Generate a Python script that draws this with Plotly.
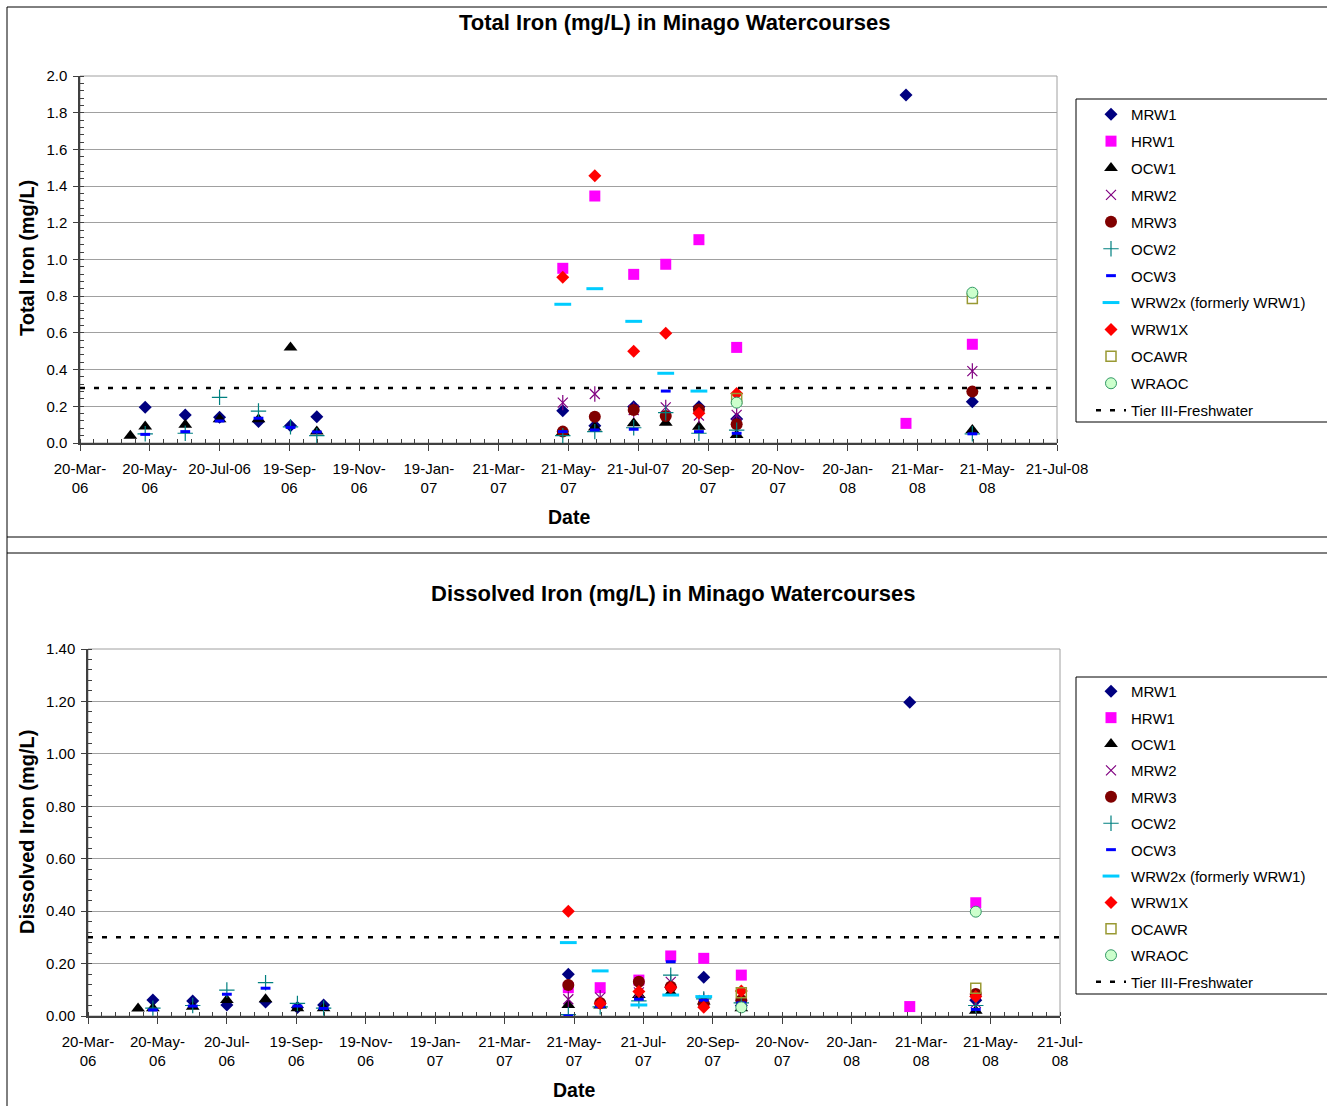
import plotly.graph_objects as go

# ---------------- data ----------------
D = {
    1: "2006-05-03", 2: "2006-05-16", 3: "2006-06-20", 4: "2006-07-20", 5: "2006-08-23",
    6: "2006-09-20", 7: "2006-10-13", 8: "2007-05-16", 9: "2007-06-13", 10: "2007-07-17",
    11: "2007-08-14", 12: "2007-09-12", 13: "2007-10-15", 14: "2008-03-11", 15: "2008-05-08",
}

# Total iron (mg/L)
tot_MRW1_d = [2, 3, 4, 5, 6, 7, 8, 9, 10, 12, 13, 14, 15]
tot_MRW1 = [0.195, 0.153, 0.14, 0.117, 0.094, 0.143, 0.176, 0.094, 0.198, 0.198, 0.131, 1.896, 0.225]
tot_HRW1_d = [8, 9, 10, 11, 12, 13, 14, 15]
tot_HRW1 = [0.952, 1.346, 0.919, 0.974, 1.108, 0.521, 0.107, 0.538]
tot_OCW1_d = [1, 2, 3, 4, 5, 6, 7, 8, 9, 10, 11, 12, 13, 15]
tot_OCW1 = [0.04, 0.09, 0.10, 0.13, 0.129, 0.52, 0.062, 0.06, 0.085, 0.107, 0.111, 0.089, 0.044, 0.071]
tot_MRW2_d = [8, 9, 10, 11, 12, 13, 15]
tot_MRW2 = [0.22, 0.267, 0.18, 0.194, 0.15, 0.153, 0.392]
tot_MRW3_d = [8, 9, 10, 11, 12, 13, 15]
tot_MRW3 = [0.062, 0.143, 0.18, 0.147, 0.183, 0.102, 0.28]
tot_OCW2_d = [2, 3, 4, 5, 6, 7, 8, 9, 10, 11, 12, 13, 15]
tot_OCW2 = [0.05, 0.053, 0.249, 0.174, 0.088, 0.04, 0.04, 0.062, 0.083, 0.165, 0.053, 0.07, 0.05]
tot_OCW3_d = [2, 3, 4, 5, 6, 7, 8, 9, 10, 11, 12, 13, 15]
tot_OCW3 = [0.047, 0.062, 0.12, 0.135, 0.085, 0.06, 0.062, 0.071, 0.075, 0.283, 0.062, 0.053, 0.05]
tot_WRW2x_d = [8, 9, 10, 11, 12]
tot_WRW2x = [0.756, 0.841, 0.663, 0.38, 0.283]
tot_WRW1X_d = [8, 9, 10, 11, 12, 13]
tot_WRW1X = [0.903, 1.457, 0.50, 0.598, 0.162, 0.27]
tot_OCAWR_d = [13, 15]
tot_OCAWR = [0.243, 0.788]
tot_WRAOC_d = [13, 15]
tot_WRAOC = [0.22, 0.819]

# Dissolved iron (mg/L)
dis_MRW1_d = [2, 3, 4, 5, 6, 7, 8, 11, 12, 13, 14, 15]
dis_MRW1 = [0.061, 0.057, 0.042, 0.053, 0.032, 0.042, 0.159, 0.11, 0.148, 0.04, 1.197, 0.06]
dis_HRW1_d = [8, 9, 10, 11, 12, 13, 14, 15]
dis_HRW1 = [0.108, 0.108, 0.137, 0.229, 0.22, 0.156, 0.036, 0.432]
dis_OCW1_d = [1, 2, 3, 4, 5, 6, 7, 8, 9, 10, 11, 12, 13, 15]
dis_OCW1 = [0.029, 0.03, 0.035, 0.061, 0.064, 0.03, 0.03, 0.042, 0.04, 0.08, 0.09, 0.055, 0.03, 0.02]
dis_MRW2_d = [8, 9, 10, 11, 12, 13, 15]
dis_MRW2 = [0.064, 0.07, 0.09, 0.13, 0.06, 0.05, 0.05]
dis_MRW3_d = [8, 9, 10, 11, 12, 13, 15]
dis_MRW3 = [0.118, 0.05, 0.131, 0.112, 0.048, 0.06, 0.084]
dis_OCW2_d = [2, 3, 4, 5, 6, 7, 8, 9, 10, 11, 12, 13, 15]
dis_OCW2 = [0.03, 0.04, 0.099, 0.127, 0.048, 0.03, 0.005, 0.035, 0.058, 0.156, 0.065, 0.05, 0.04]
dis_OCW3_d = [2, 3, 4, 5, 6, 7, 8, 9, 10, 11, 12, 13, 15]
dis_OCW3 = [0.023, 0.038, 0.083, 0.106, 0.038, 0.029, 0.0, 0.036, 0.064, 0.207, 0.06, 0.05, 0.025]
dis_WRW2x_d = [8, 9, 10, 11, 12]
dis_WRW2x = [0.28, 0.172, 0.042, 0.08, 0.074]
dis_WRW1X_d = [8, 9, 10, 11, 12, 13, 15]
dis_WRW1X = [0.40, 0.048, 0.093, 0.109, 0.033, 0.095, 0.074]
dis_OCAWR_d = [13, 15]
dis_OCAWR = [0.089, 0.106]
dis_WRAOC_d = [13, 15]
dis_WRAOC = [0.033, 0.398]

tier_dates = ["2006-03-20", "2008-07-21"]
tier_value = [0.3, 0.3]

tick_dates = ["2006-03-20", "2006-05-20", "2006-07-20", "2006-09-19", "2006-11-19", "2007-01-19",
              "2007-03-21", "2007-05-21", "2007-07-21", "2007-09-20", "2007-11-20", "2008-01-20",
              "2008-03-21", "2008-05-21", "2008-07-21"]
top_tick_labels = ["20-Mar-<br>06", "20-May-<br>06", "20-Jul-06", "19-Sep-<br>06", "19-Nov-<br>06",
                   "19-Jan-<br>07", "21-Mar-<br>07", "21-May-<br>07", "21-Jul-07", "20-Sep-<br>07",
                   "20-Nov-<br>07", "20-Jan-<br>08", "21-Mar-<br>08", "21-May-<br>08", "21-Jul-08"]
bot_tick_labels = ["20-Mar-<br>06", "20-May-<br>06", "20-Jul-<br>06", "19-Sep-<br>06", "19-Nov-<br>06",
                   "19-Jan-<br>07", "21-Mar-<br>07", "21-May-<br>07", "21-Jul-<br>07", "20-Sep-<br>07",
                   "20-Nov-<br>07", "20-Jan-<br>08", "21-Mar-<br>08", "21-May-<br>08", "21-Jul-<br>08"]

series_names = ["MRW1", "HRW1", "OCW1", "MRW2", "MRW3", "OCW2", "OCW3",
                "WRW2x (formerly WRW1)", "WRW1X", "OCAWR", "WRAOC"]

# ---------------- styles ----------------
FONT = "Liberation Sans, Arial, sans-serif"
W, H = 1327, 1106

styles = {
    "MRW1": dict(symbol="diamond", size=10, color="#000080", line=dict(width=0)),
    "HRW1": dict(symbol="square", size=11, color="#FF00FF", line=dict(width=0)),
    "OCW1": dict(symbol="triangle-up", size=12, color="#000000", line=dict(width=0)),
    "MRW2": dict(symbol="x-thin-open", size=10, color="#800080", line=dict(width=1.2, color="#800080")),
    "MRW3": dict(symbol="circle", size=12, color="#800000", line=dict(width=0)),
    "OCW2": dict(symbol="cross-thin-open", size=11, color="#008080", line=dict(width=1.2, color="#008080")),
    "OCW3": dict(symbol="line-ew-open", size=7, color="#0000FF", line=dict(width=3, color="#0000FF")),
    "WRW2x (formerly WRW1)": dict(symbol="line-ew-open", size=12, color="#00CCFF",
                                  line=dict(width=3, color="#00CCFF")),
    "WRW1X": dict(symbol="diamond", size=10, color="#FF0000", line=dict(width=0)),
    "OCAWR": dict(symbol="square-open", size=10, color="#999933", line=dict(width=1.5, color="#999933")),
    "WRAOC": dict(symbol="circle", size=11, color="#CCFFCC", line=dict(width=1, color="#339966")),
}

top_data = [(tot_MRW1_d, tot_MRW1), (tot_HRW1_d, tot_HRW1), (tot_OCW1_d, tot_OCW1),
            (tot_MRW2_d, tot_MRW2), (tot_MRW3_d, tot_MRW3), (tot_OCW2_d, tot_OCW2),
            (tot_OCW3_d, tot_OCW3), (tot_WRW2x_d, tot_WRW2x), (tot_WRW1X_d, tot_WRW1X),
            (tot_OCAWR_d, tot_OCAWR), (tot_WRAOC_d, tot_WRAOC)]
bot_data = [(dis_MRW1_d, dis_MRW1), (dis_HRW1_d, dis_HRW1), (dis_OCW1_d, dis_OCW1),
            (dis_MRW2_d, dis_MRW2), (dis_MRW3_d, dis_MRW3), (dis_OCW2_d, dis_OCW2),
            (dis_OCW3_d, dis_OCW3), (dis_WRW2x_d, dis_WRW2x), (dis_WRW1X_d, dis_WRW1X),
            (dis_OCAWR_d, dis_OCAWR), (dis_WRAOC_d, dis_WRAOC)]

fig = go.Figure()


def add_chart(data, xa, ya, leg, prefix):
    for name, (dk, vals) in zip(series_names, data):
        st = styles[name]
        xs = [D[k] for k in dk]
        fig.add_trace(go.Scatter(
            x=xs, y=vals, mode="markers", name=name, xaxis=xa, yaxis=ya, legend=leg,
            legendgroup=prefix + name,
            marker=dict(symbol=st["symbol"], size=st["size"], color=st["color"], line=st["line"]),
        ))
        if name == "MRW2":
            fig.add_trace(go.Scatter(
                x=xs, y=vals, mode="markers", name=name, xaxis=xa, yaxis=ya, legend=leg,
                legendgroup=prefix + name, showlegend=False,
                marker=dict(symbol="line-ns-open", size=11, color="#800080",
                            line=dict(width=1.2, color="#800080")),
            ))
    fig.add_trace(go.Scatter(
        x=tier_dates, y=tier_value, mode="lines", name="Tier III-Freshwater",
        xaxis=xa, yaxis=ya, legend=leg, legendgroup=prefix + "tier",
        line=dict(color="black", width=2.5, dash="5px,9px"),
    ))


add_chart(top_data, "x", "y", "legend", "t_")
add_chart(bot_data, "x2", "y2", "legend2", "b_")

minor_x = dict(ticks="inside", ticklen=4, tickcolor="#404040", dtick=12.2 * 86400000,
               tick0="2006-03-20", showgrid=False)


def xaxis(domain, labels, anchor):
    return dict(domain=domain, anchor=anchor, type="date",
                range=["2006-03-20", "2008-07-21"],
                tickmode="array", tickvals=tick_dates, ticktext=labels,
                ticks="outside", ticklen=6, tickcolor="#404040",
                showline=True, linecolor="#404040", linewidth=1.5,
                showgrid=False, zeroline=False, minor=minor_x,
                tickfont=dict(family=FONT, size=15, color="black"),
                ticklabelstandoff=5, automargin=False, fixedrange=True)


def yaxis(domain, rng, fmt, anchor):
    return dict(domain=domain, anchor=anchor, range=rng, dtick=0.2, tick0=0, tickformat=fmt,
                ticks="outside", ticklen=5, tickcolor="#404040",
                showline=True, linecolor="#404040", linewidth=1.5,
                showgrid=True, gridcolor="#A0A0A0", gridwidth=1, zeroline=False,
                minor=dict(ticks="inside", ticklen=4, tickcolor="#404040", dtick=0.04, showgrid=False),
                tickfont=dict(family=FONT, size=15, color="black"),
                ticklabelstandoff=3, automargin=False, fixedrange=True)


top_x_dom = [80 / W, 1057 / W]
top_y_dom = [1 - 443 / H, 1 - 76 / H]
bot_x_dom = [88 / W, 1060 / W]
bot_y_dom = [1 - 1016 / H, 1 - 649 / H]

legend_common = dict(xanchor="left", yanchor="top", bgcolor="rgba(0,0,0,0)", borderwidth=0,
                     font=dict(family=FONT, size=15, color="black"), itemsizing="trace")

fig.update_layout(
    width=W, height=H, margin=dict(l=0, r=0, t=0, b=0),
    paper_bgcolor="white", plot_bgcolor="white",
    xaxis=xaxis(top_x_dom, top_tick_labels, "y"),
    yaxis=yaxis(top_y_dom, [0, 2.0], ".1f", "x"),
    xaxis2=xaxis(bot_x_dom, bot_tick_labels, "y2"),
    yaxis2=yaxis(bot_y_dom, [0, 1.4], ".2f", "x2"),
    legend=dict(x=1091 / W, y=1 - 98 / H, tracegroupgap=4.4, **legend_common),
    legend2=dict(x=1091 / W, y=1 - 675 / H, tracegroupgap=3.9, **legend_common),
    showlegend=True,
)

bold = dict(family=FONT, color="black")
ann = [
    dict(text="<b>Total Iron (mg/L) in Minago Watercourses</b>", x=674 / W, y=1 - 22 / H,
         font=dict(size=22, **bold)),
    dict(text="<b>Dissolved Iron (mg/L) in Minago Watercourses</b>", x=673 / W, y=1 - 593 / H,
         font=dict(size=22, **bold)),
    dict(text="<b>Total Iron (mg/L)</b>", x=27 / W, y=1 - 258 / H, textangle=-90,
         font=dict(size=20, **bold)),
    dict(text="<b>Dissolved Iron (mg/L)</b>", x=27 / W, y=1 - 832 / H, textangle=-90,
         font=dict(size=20, **bold)),
    dict(text="<b>Date</b>", x=569 / W, y=1 - 517 / H, font=dict(size=19.5, **bold)),
    dict(text="<b>Date</b>", x=574 / W, y=1 - 1090 / H, font=dict(size=19.5, **bold)),
]
for a in ann:
    a.update(xref="paper", yref="paper", showarrow=False, xanchor="center", yanchor="middle")
fig.update_layout(annotations=ann)

frame = dict(color="#000000", width=1)
shapes = [
    dict(type="line", xref="paper", yref="paper", x0=7 / W, x1=1.0, y0=1 - 7 / H, y1=1 - 7 / H, line=frame),
    dict(type="line", xref="paper", yref="paper", x0=7 / W, x1=7 / W, y0=1 - 7 / H, y1=0, line=frame),
    dict(type="line", xref="paper", yref="paper", x0=7 / W, x1=1.0, y0=1 - 537 / H, y1=1 - 537 / H, line=frame),
    dict(type="line", xref="paper", yref="paper", x0=7 / W, x1=1.0, y0=1 - 553 / H, y1=1 - 553 / H, line=frame),
    dict(type="rect", xref="paper", yref="paper", x0=1076 / W, x1=1.02, y0=1 - 422 / H, y1=1 - 99 / H, line=frame),
    dict(type="rect", xref="paper", yref="paper", x0=1076 / W, x1=1.02, y0=1 - 994 / H, y1=1 - 677 / H, line=frame),
    dict(type="rect", xref="x domain", yref="y domain", x0=0, x1=1, y0=0, y1=1,
         line=dict(color="#A0A0A0", width=1), layer="below"),
    dict(type="rect", xref="x2 domain", yref="y2 domain", x0=0, x1=1, y0=0, y1=1,
         line=dict(color="#A0A0A0", width=1), layer="below"),
]
fig.update_layout(shapes=shapes)

fig.write_html("out.html")
